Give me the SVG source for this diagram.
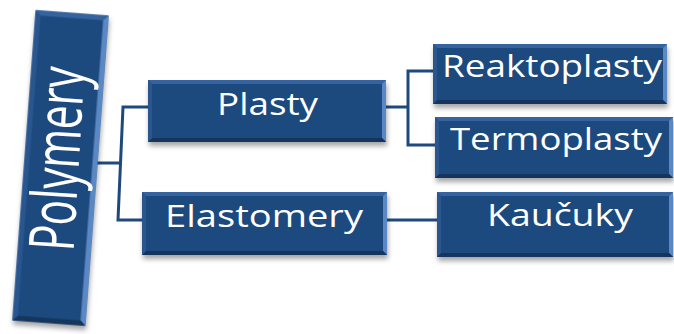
<svg xmlns="http://www.w3.org/2000/svg" width="674" height="334" viewBox="0 0 674 334">
<defs>
<filter id="sh" x="-10%" y="-10%" width="120%" height="130%">
<feDropShadow dx="1" dy="4" stdDeviation="2.5" flood-color="#000" flood-opacity="0.35"/>
</filter>
</defs>
<style>
.box{fill:#1F4A7E}
.bt{fill:#3563A0}
.br{fill:#5A88C4}
.bb{fill:#15355C}
.bl{fill:#2A5690}
.lbl{font-family:"Open Sans","DejaVu Sans",sans-serif;fill:#fff;font-size:31px;font-weight:500;text-anchor:middle}
.con{fill:none;stroke:#1F497D;stroke-width:3}
</style>
<rect width="674" height="334" fill="#fff"/>
<g id="connectors">
<path class="con" d="M96,163 H120.5"/>
<path class="con" d="M150,107 H123 L118,220 H143"/>
<path class="con" d="M385,107 H408"/>
<path class="con" d="M434,71 H408 V145 H436"/>
<path class="con" d="M386,220 H438"/>
</g>
<g id="polymery" transform="translate(60.5,168) rotate(4.3)">
<g filter="url(#sh)">
<rect class="box" x="-36.5" y="-155.5" width="73" height="311"/>
<polygon class="bt" points="-36.5,-155.5 36.5,-155.5 31.5,-150.5 -31.5,-150.5"/>
<polygon class="br" points="36.5,-155.5 36.5,155.5 31.5,150.5 31.5,-150.5"/>
<polygon class="bb" points="-36.5,155.5 36.5,155.5 31.5,150.5 -31.5,150.5"/>
<polygon class="bl" points="-36.5,-155.5 -31.5,-150.5 -31.5,150.5 -36.5,155.5"/>
</g>
</g>
<text class="lbl" transform="translate(79,160) rotate(3.5) scale(1.5,1) rotate(-90)" x="0" y="0" style="font-size:42px" textLength="184" lengthAdjust="spacingAndGlyphs">Polymery</text>
<g id="plasty">
<g filter="url(#sh)">
<rect class="box" x="148" y="80" width="238" height="62"/>
<polygon class="bt" points="148,80 386,80 382,84 152,84"/>
<polygon class="br" points="386,80 386,142 382,138 382,84"/>
<polygon class="bb" points="148,142 386,142 382,138 152,138"/>
<polygon class="bl" points="148,80 152,84 152,138 148,142"/>
</g>
<text class="lbl" x="267.5" y="115" textLength="101" lengthAdjust="spacingAndGlyphs">Plasty</text>
</g>
<g id="elastomery">
<g filter="url(#sh)">
<rect class="box" x="142" y="192" width="245" height="63"/>
<polygon class="bt" points="142,192 387,192 383,196 146,196"/>
<polygon class="br" points="387,192 387,255 383,251 383,196"/>
<polygon class="bb" points="142,255 387,255 383,251 146,251"/>
<polygon class="bl" points="142,192 146,196 146,251 142,255"/>
</g>
<text class="lbl" x="264" y="227" textLength="198" lengthAdjust="spacingAndGlyphs">Elastomery</text>
</g>
<g id="reaktoplasty">
<g filter="url(#sh)">
<rect class="box" x="433" y="44" width="234" height="60"/>
<polygon class="bt" points="433,44 667,44 663,48 437,48"/>
<polygon class="br" points="667,44 667,104 663,100 663,48"/>
<polygon class="bb" points="433,104 667,104 663,100 437,100"/>
<polygon class="bl" points="433,44 437,48 437,100 433,104"/>
</g>
<text class="lbl" x="552" y="77" textLength="220" lengthAdjust="spacingAndGlyphs">Reaktoplasty</text>
</g>
<g id="termoplasty">
<g filter="url(#sh)">
<rect class="box" x="435" y="117" width="238" height="61"/>
<polygon class="bt" points="435,117 673,117 669,121 439,121"/>
<polygon class="br" points="673,117 673,178 669,174 669,121"/>
<polygon class="bb" points="435,178 673,178 669,174 439,174"/>
<polygon class="bl" points="435,117 439,121 439,174 435,178"/>
</g>
<text class="lbl" x="556" y="150" textLength="212" lengthAdjust="spacingAndGlyphs">Termoplasty</text>
</g>
<g id="kaucuky">
<g filter="url(#sh)">
<rect class="box" x="437" y="192" width="236" height="65"/>
<polygon class="bt" points="437,192 673,192 669,196 441,196"/>
<polygon class="br" points="673,192 673,257 669,253 669,196"/>
<polygon class="bb" points="437,257 673,257 669,253 441,253"/>
<polygon class="bl" points="437,192 441,196 441,253 437,257"/>
</g>
<text class="lbl" x="560" y="226" textLength="146" lengthAdjust="spacingAndGlyphs">Kaučuky</text>
</g>
</svg>
